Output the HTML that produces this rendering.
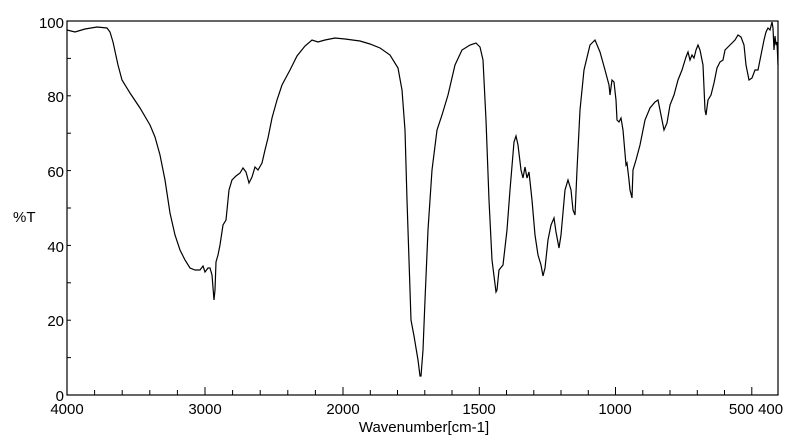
<!DOCTYPE html>
<html><head><meta charset="utf-8"><style>
html,body{margin:0;padding:0;background:#fff;}
svg{display:block;}
text{font-family:"Liberation Sans",sans-serif;font-size:15px;fill:#000;}
</style></head><body>
<svg width="800" height="441" viewBox="0 0 800 441" xmlns="http://www.w3.org/2000/svg">
<rect x="67" y="21" width="711" height="374" fill="none" stroke="#000" stroke-width="1.2"/>
<g stroke="#000" stroke-width="1">
<!-- y ticks -->
<line x1="67" y1="357.6" x2="71" y2="357.6"/><line x1="67" y1="320.2" x2="71" y2="320.2"/>
<line x1="67" y1="282.8" x2="71" y2="282.8"/><line x1="67" y1="245.4" x2="71" y2="245.4"/>
<line x1="67" y1="208" x2="71" y2="208"/><line x1="67" y1="170.6" x2="71" y2="170.6"/>
<line x1="67" y1="133.2" x2="71" y2="133.2"/><line x1="67" y1="95.8" x2="71" y2="95.8"/>
<line x1="67" y1="58.4" x2="71" y2="58.4"/>
<!-- x ticks high region every 200 -->
<line x1="94.6" y1="395" x2="94.6" y2="390"/><line x1="122.2" y1="395" x2="122.2" y2="390"/>
<line x1="149.8" y1="395" x2="149.8" y2="390"/><line x1="177.4" y1="395" x2="177.4" y2="390"/>
<line x1="205" y1="395" x2="205" y2="387"/><line x1="232.6" y1="395" x2="232.6" y2="390"/>
<line x1="260.2" y1="395" x2="260.2" y2="390"/><line x1="287.8" y1="395" x2="287.8" y2="390"/>
<line x1="315.4" y1="395" x2="315.4" y2="390"/><line x1="343" y1="395" x2="343" y2="387"/>
<line x1="370.3" y1="395" x2="370.3" y2="390"/><line x1="397.5" y1="395" x2="397.5" y2="390"/>
<line x1="424.8" y1="395" x2="424.8" y2="390"/><line x1="452" y1="395" x2="452" y2="390"/>
<line x1="479.3" y1="395" x2="479.3" y2="387"/><line x1="506.5" y1="395" x2="506.5" y2="390"/>
<line x1="533.8" y1="395" x2="533.8" y2="390"/><line x1="561" y1="395" x2="561" y2="390"/>
<line x1="588.3" y1="395" x2="588.3" y2="390"/><line x1="615.5" y1="395" x2="615.5" y2="387"/>
<line x1="642.8" y1="395" x2="642.8" y2="390"/><line x1="670" y1="395" x2="670" y2="390"/>
<line x1="697.3" y1="395" x2="697.3" y2="390"/><line x1="724.5" y1="395" x2="724.5" y2="390"/>
<line x1="751.8" y1="395" x2="751.8" y2="387"/>
</g>
<g text-anchor="end">
<text x="64" y="28">100</text><text x="64" y="102">80</text><text x="64" y="177">60</text>
<text x="64" y="252">40</text><text x="64" y="326">20</text><text x="64" y="401">0</text>
</g>
<text x="13" y="222">%T</text>
<g text-anchor="middle">
<text x="67" y="414">4000</text><text x="205" y="414">3000</text><text x="343" y="414">2000</text>
<text x="479" y="414">1500</text><text x="615" y="414">1000</text><text x="756" y="414">500 400</text>
<text x="424" y="432">Wavenumber[cm-1]</text>
</g>
<polyline fill="none" stroke="#000" stroke-width="1.2" points="67,30 75,32 85,29 97,27 107,28 110,32 113,42 118,65 122,80 130,93 140,108 150,125 155,137 160,155 165,180 170,213 175,235 180,250 185,260 190,268 195,270 200,270 203,266 205,272 208,268 210,268 212,275 214,300 215,290 216,262 218,255 220,245 223,225 226,220 229,190 232,180 236,176 240,173 243,168 246,172 249,183 252,177 255,167 258,170 262,163 265,150 268,138 272,118 277,100 282,85 290,70 297,56 305,46 312,40 318,42 325,40 335,38 345,39 360,41 370,44 380,48 390,55 398,68 402,90 405,130 407,200 409,260 411,320 414,336 418,360 420,376 421,376 423,350 425,300 428,230 432,170 437,130 442,115 448,95 455,65 462,50 470,45 476,43 480,47 483,60 486,120 489,200 492,260 496,292 497,290 499,270 503,265 507,230 510,190 514,142 516,136 518,145 521,170 523,178 525,167 527,178 529,172 532,200 535,235 538,255 541,265 543,276 545,268 548,240 551,225 554,218 556,232 559,248 561,235 565,190 568,180 571,190 573,210 575,215 577,170 580,110 584,70 590,45 595,40 600,52 605,70 609,85 610,95 612,80 614,82 616,100 617,120 619,122 621,118 623,130 626,165 627,163 629,180 630,190 632,198 633,170 636,160 640,145 645,120 650,108 655,102 658,100 661,115 664,130 667,123 670,105 674,95 678,80 682,70 686,57 688,52 690,60 692,55 694,58 696,50 698,45 700,50 703,65 705,110 706,115 708,100 711,95 714,83 717,68 720,62 723,60 725,50 730,45 735,40 738,35 741,37 744,45 746,65 749,80 752,78 755,70 758,70 760,60 764,40 766,32 768,28 770,30 772,22 773,28 774,50 775,36 776,45 777,42 778,65"/>
</svg>
</body></html>
